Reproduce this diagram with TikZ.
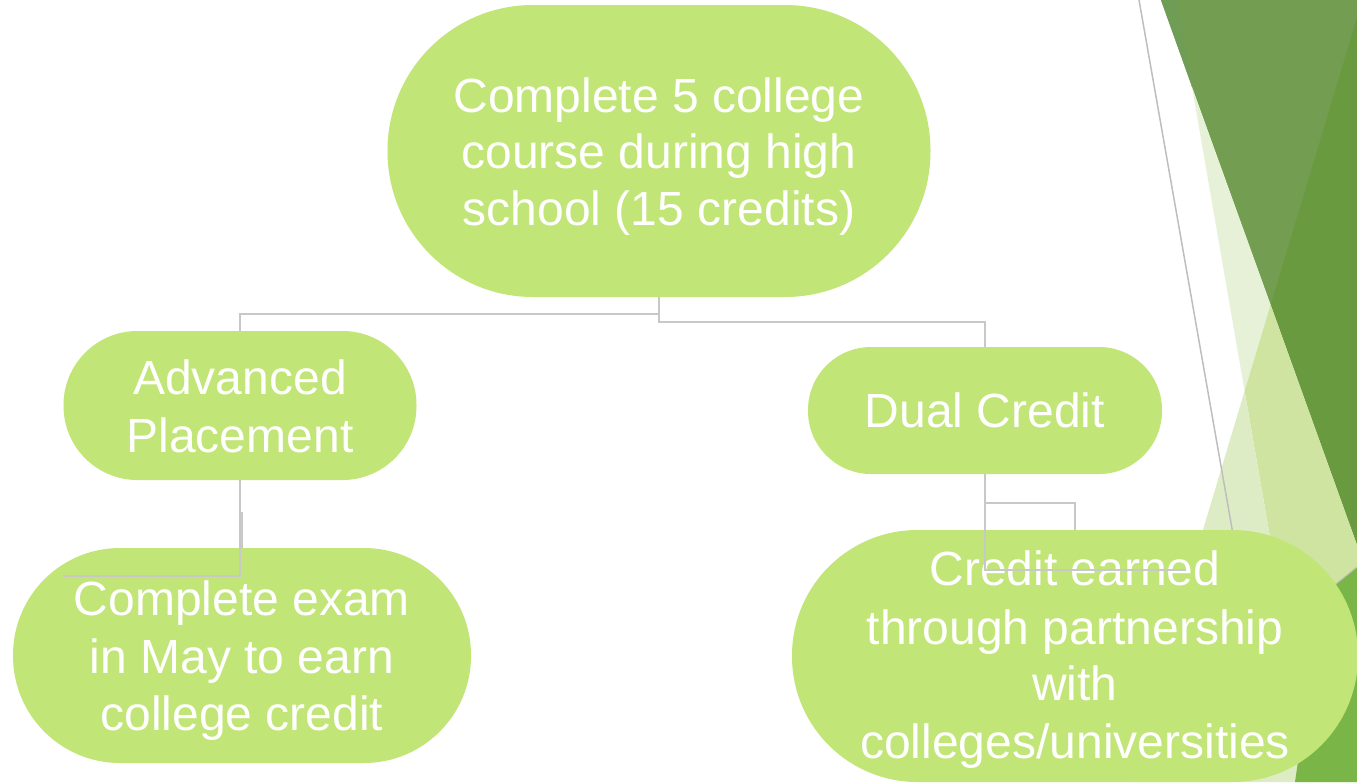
\documentclass[tikz,border=0pt]{standalone}
\usepackage{fontspec}
\setmainfont{Liberation Sans}
\definecolor{nodegreen}{RGB}{193,229,118}
\definecolor{conngray}{RGB}{200,200,200}
\definecolor{linegray}{RGB}{190,190,190}
\definecolor{bgdark}{RGB}{106,154,64}
\definecolor{bgmed}{RGB}{115,158,82}
\definecolor{bgstrip}{RGB}{111,157,86}
\definecolor{bgpale}{RGB}{231,241,215}
\definecolor{bglight}{RGB}{207,228,161}
\definecolor{bglighter}{RGB}{222,236,198}
\definecolor{bgbright}{RGB}{122,181,71}
\tikzset{
  stad/.style n args={3}{rectangle, fill=nodegreen, draw=none, minimum width=#1pt, minimum height=#2pt, rounded corners=#3pt, inner sep=0pt},
  lbl/.style={text=white, font=\fontsize{48}{57}\selectfont, anchor=base, inner sep=0pt},
  conn/.style={draw=conngray, line width=1.6pt},
  diag/.style={draw=linegray, line width=1.5pt},
}
\begin{document}
\begin{tikzpicture}[x=1pt,y=-1pt]
\useasboundingbox (0,0) rectangle (1357,782);
\clip (0,0) rectangle (1357,782);
\fill[white] (0,0) rectangle (1357,782);
% background facets
\fill[bgdark] (1161,0) -- (1357,0) -- (1357,545) -- cycle;
\fill[bgmed] (1177,0) -- (1357,0) -- (1357,17) -- (1270.6,304.7) -- (1192,87) -- cycle;
\fill[bgstrip] (1161,0) -- (1177,0) -- (1192,87) -- cycle;
\fill[bgpale] (1192,87) -- (1270.6,304.7) -- (1244.6,391) -- cycle;
\fill[bglight] (1270.6,304.7) -- (1244.6,391) -- (1312.6,782) -- (1357,782) -- (1357,545) -- cycle;
\fill[bglighter] (1244.6,391) -- (1127.4,782) -- (1312.6,782) -- cycle;
\fill[bgbright] (1322,595) -- (1357,567) -- (1357,782) -- (1295,782) -- cycle;
\draw[draw=linegray, line width=1pt] (1300,613) -- (1357,567);
% long diagonal line
\coordinate (dtop) at (1139,0);
\coordinate (dbot) at (1234,540);
\draw[diag] (dtop) -- (dbot);
% nodes
\node[stad={543}{292}{145.5}] (top) at (659,151) {};
\node[stad={353}{149}{74}] (ap) at (240,405.5) {};
\node[stad={354}{127}{63}] (dc) at (985,410.5) {};
\node[stad={458}{215}{107}] (ce) at (242,655.5) {};
\node[stad={566}{252}{125.5}] (cr) at (1075,656) {};
% texts
\node[lbl] (topa) at (659,112) {Complete 5 college};
\node[lbl] (topb) at (659,168.5) {course during high};
\node[lbl] (topc) at (659,225) {school (15 credits)};
\node[lbl] (apa) at (240,394) {Advanced};
\node[lbl] (apb) at (240,452) {Placement};
\node[lbl] (dca) at (985,427) {Dual Credit};
\node[lbl] (cea) at (242,615) {Complete exam};
\node[lbl] (ceb) at (242,673) {in May to earn};
\node[lbl] (cec) at (242,730) {college credit};
\node[lbl] (cra) at (1075,585) {Credit earned};
\node[lbl] (crb) at (1075,644) {through partnership};
\node[lbl] (crc) at (1075,700) {with};
\node[lbl] (crd) at (1075,758) {colleges/universities};
% connectors
\coordinate (apend) at (63,576);
\coordinate (dcend) at (1186,570);
\draw[conn] (top.south) -- ++(0,17) -| (ap.north);
\draw[conn] (top.south) -- ++(0,25) -| (dc.north);
\draw[conn] (ap.south) -- ++(0,33) -| (ce.north);
\draw[conn] (ap.south) |- (apend);
\draw[conn] (dc.south) -- ++(0,29) -| (cr.north);
\draw[conn] (dc.south) |- (dcend);
\end{tikzpicture}
\end{document}
